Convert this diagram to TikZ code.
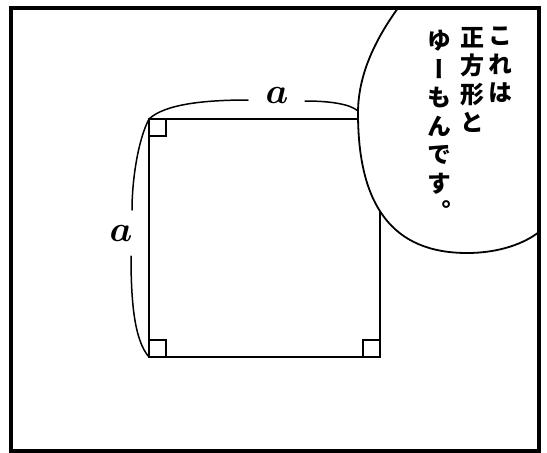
\documentclass[tikz,border=0pt]{standalone}
\usepackage{fontspec}
\newfontfamily\jpfont[RawFeature=+vert]{Noto Sans CJK JP}
\usetikzlibrary{calc}
\tikzset{
  panel/.style={line width=4pt},
  sq/.style={line width=2.4pt},
  ramark/.style={line width=1.4pt},
  bracket/.style={line width=1.5pt, line cap=round},
  bubble/.style={line width=1.8pt},
  lab/.style={inner sep=0pt},
  vcol/.style={font=\jpfont\bfseries\fontsize{24}{28.5}\selectfont, align=center, inner sep=0pt, anchor=north},
}
\newcommand{\biga}{\scalebox{3.6}{\boldmath$a$}}
\begin{document}
\begin{tikzpicture}[x=1pt,y=-1pt]
\useasboundingbox (0,0) rectangle (547,453);
\fill[white] (0,0) rectangle (547,453);
% square
\coordinate (TL) at (149,119);
\coordinate (TR) at (380,119);
\coordinate (BR) at (380,357);
\coordinate (BL) at (149,357);
\draw[sq] (TL) -- (TR) -- (BR) -- (BL) -- cycle;
% right-angle marks
\draw[ramark] ($(TL)+(17,0)$) -- ++(0,17) -- ++(-17,0);
\draw[ramark] ($(BL)+(0,-17)$) -- ++(17,0) -- ++(0,17);
\draw[ramark] ($(BR)+(-17,0)$) -- ++(0,-17) -- ++(17,0);
% labels
\node[lab] (atop) at (277,95) {\biga};
\node[lab] (aleft) at (121,233) {\biga};
\coordinate (t1) at (248,100);
\coordinate (t2) at (305,101);
\coordinate (t3) at (358,111);
\coordinate (l1) at (132,210);
\coordinate (l2) at (131,256);
\draw[bracket] (TL) .. controls (165,104) and (205,100) .. (t1);
\draw[bracket] (t2) .. controls (330,101) and (350,104) .. (t3);
\draw[bracket] (TL) .. controls (138,140) and (132,180) .. (l1);
\draw[bracket] (l2) .. controls (131,300) and (134,340) .. (BL);
% speech bubble
\coordinate (b0) at (398,8);
\coordinate (b1) at (358,113);
\coordinate (b2) at (467,253);
\coordinate (b3) at (539,232);
\fill[white] (b0) .. controls (375,40) and (358,75) .. (b1)
  .. controls (358,205) and (392,253) .. (b2)
  .. controls (500,253) and (525,243) .. (b3) -- (539,8) -- cycle;
\draw[bubble] (b0) .. controls (375,40) and (358,75) .. (b1)
  .. controls (358,205) and (392,253) .. (b2)
  .. controls (500,253) and (525,243) .. (b3);
\node[vcol] (c1) at (500,27) {こ\\れ\\は};
\node[vcol] (c2) at (472,27) {正\\方\\形\\と};
\node[vcol] (c3) at (439,30) {ゆ\\ー\\も\\ん\\で\\す\\。};
% panel frame
\draw[panel] (10.5,8) rectangle (539,450.5);
\end{tikzpicture}
\end{document}
